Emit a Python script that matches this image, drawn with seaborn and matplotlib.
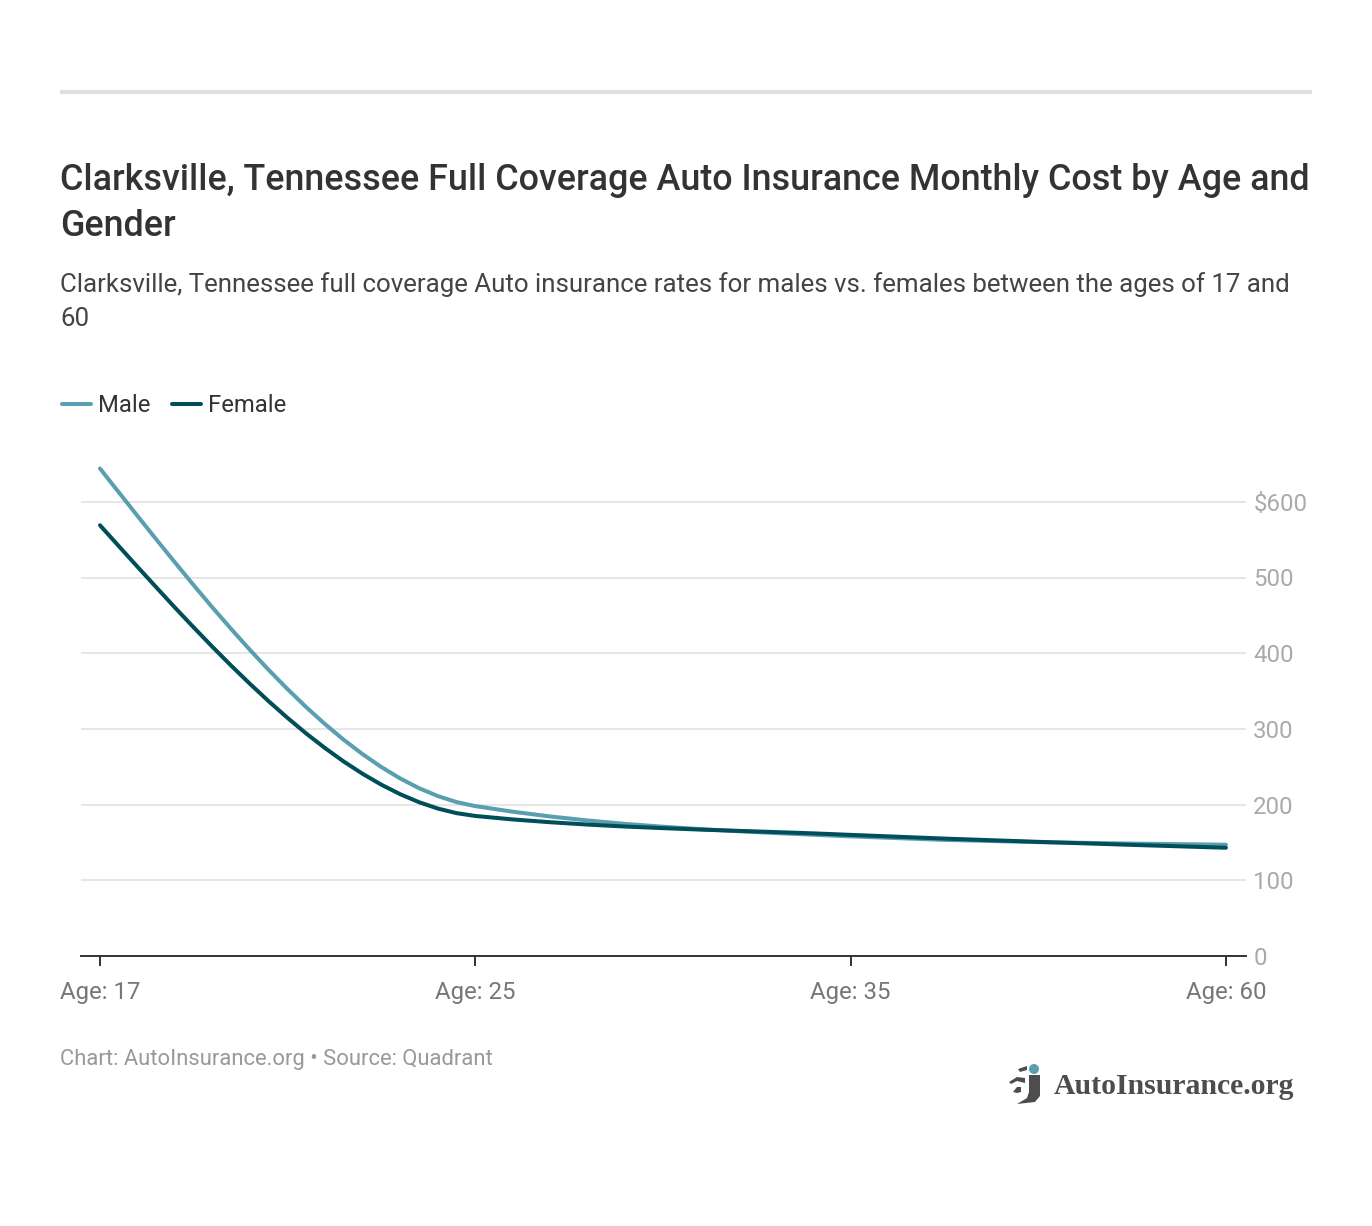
import pandas as pd
import seaborn as sns
import matplotlib.pyplot as plt
from matplotlib.lines import Line2D
from matplotlib.patches import Circle, Polygon

sns.set_style('white')
plt.rcParams['font.family'] = ['Roboto', 'DejaVu Sans']

W, H = 1372, 1226

# category positions of the samples (0 = Age: 17, 3 = Age: 60)
positions = [0, 0.05, 0.1, 0.15, 0.2, 0.25, 0.3, 0.35, 0.4, 0.45, 0.5, 0.55, 0.6, 0.65, 0.7,
             0.75, 0.8, 0.85, 0.9, 0.95, 1,
             1.1, 1.2, 1.3, 1.4, 1.5, 1.6, 1.7, 1.8, 1.9, 2,
             2.25, 2.5, 2.75, 3]
male = [644, 612.6, 581.3, 550.3, 519.7, 489.6, 460.2, 431.7, 404.1, 377.6, 352.4, 328.5, 306.1, 285.4, 266.5,
        249.5, 234.5, 221.7, 211.3, 203.3, 198,
        190.6, 184.3, 179, 174.5, 170.8, 167.6, 164.9, 162.4, 160.2, 158,
        153.4, 150.4, 148.5, 147]
female = [569, 541.5, 514.1, 487, 460.1, 433.9, 408.2, 383.3, 359.3, 336.3, 314.4, 293.7, 274.5, 256.7, 240.6,
          226.2, 213.7, 203.2, 194.8, 188.7, 185,
          180.4, 176.7, 173.6, 171, 168.9, 167, 165.3, 163.7, 162, 160,
          155.1, 150.8, 146.8, 143]

age_ticks = [0, 1, 2, 3]
age_labels = ['Age: 17', 'Age: 25', 'Age: 35', 'Age: 60']
cost_ticks = [0, 100, 200, 300, 400, 500, 600]
cost_labels = ['0', '100', '200', '300', '400', '500', '$600']

MALE_COLOR = '#5a9fb0'
FEMALE_COLOR = '#004e5a'
LOGO_GREY = '#4d4d4d'


def fx(px):
    return px / W


def fy(px):
    return 1 - px / H


df = pd.concat([
    pd.DataFrame({'pos': positions, 'cost': male, 'gender': 'Male'}),
    pd.DataFrame({'pos': positions, 'cost': female, 'gender': 'Female'}),
])

fig = plt.figure(figsize=(W / 100, H / 100), dpi=100, facecolor='white')
ax = fig.add_axes([fx(81), fy(956), (1246 - 81) / W, (956 - 460) / H])

sns.lineplot(data=df, x='pos', y='cost', hue='gender', ax=ax,
             palette={'Male': MALE_COLOR, 'Female': FEMALE_COLOR},
             linewidth=2.9, solid_capstyle='round', solid_joinstyle='round',
             errorbar=None, sort=False, legend=False, clip_on=False, zorder=3)

ax.set_xlim(-19 / 375.3, 1146 / 375.3)
ax.set_ylim(0, 496 / 0.757)
ax.set_xlabel('')
ax.set_ylabel('')

ax.set_xticks(age_ticks, age_labels, fontsize=17.3, color='#777777')
ax.yaxis.tick_right()
ax.set_yticks(cost_ticks, cost_labels, fontsize=17.3, color='#aaaaaa')
ax.tick_params(axis='x', bottom=True, length=7.5, width=1.4, color='#333333', pad=10.5)
ax.tick_params(axis='y', length=0, pad=5.3)
ax.grid(axis='y', color='#e6e6e6', linewidth=1.4)
ax.set_axisbelow(True)
for side in ['top', 'left', 'right']:
    ax.spines[side].set_visible(False)
ax.spines['bottom'].set_linewidth(1.4)
ax.spines['bottom'].set_color('#333333')

# top rule
fig.add_artist(Line2D([fx(60), fx(1312)], [fy(92), fy(92)], color='#e0e0e0',
                      linewidth=3, solid_capstyle='butt'))

fig.text(fx(60), fy(180), 'Clarksville, Tennessee Full Coverage Auto Insurance Monthly Cost by Age and',
         fontsize=25.8, fontweight='medium', color='#333333', va='center')
fig.text(fx(60), fy(226), 'Gender',
         fontsize=25.8, fontweight='medium', color='#333333', va='center')
fig.text(fx(60), fy(285), 'Clarksville, Tennessee full coverage Auto insurance rates for males vs. females between the ages of 17 and',
         fontsize=18.65, color='#444444', va='center')
fig.text(fx(60), fy(319), '60', fontsize=18.65, color='#444444', va='center')

# legend
fig.add_artist(Line2D([fx(62), fx(91)], [fy(404), fy(404)], color=MALE_COLOR,
                      linewidth=2.9, solid_capstyle='round'))
fig.text(fx(98), fy(405), 'Male', fontsize=17.2, color='#333333', va='center')
fig.add_artist(Line2D([fx(172), fx(201)], [fy(404), fy(404)], color=FEMALE_COLOR,
                      linewidth=2.9, solid_capstyle='round'))
fig.text(fx(208), fy(405), 'Female', fontsize=17.2, color='#333333', va='center')

fig.text(fx(60), fy(1060), 'Chart: AutoInsurance.org \u2022 Source: Quadrant',
         fontsize=15.8, color='#999999', va='center')

# logo
logo = fig.add_axes([fx(1005), fy(1108), 40 / W, 48 / H])
logo.set_xlim(0, 40)
logo.set_ylim(48, 0)
logo.axis('off')
logo.add_patch(Circle((29, 9), 5, color=MALE_COLOR, lw=0))
logo.add_patch(Polygon([(24, 15), (35, 15), (35, 36), (30, 42), (12, 44), (22, 38), (24, 32)],
                       color=LOGO_GREY, lw=0))
logo.add_patch(Polygon([(13, 9), (22, 6), (22, 10), (15, 12)], color=LOGO_GREY, lw=0))
logo.add_patch(Polygon([(4, 22), (12, 17), (20, 18), (20, 23), (12, 21), (6, 24)],
                       color=LOGO_GREY, lw=0))
logo.add_patch(Polygon([(8, 32), (12, 27), (16, 27), (16, 32), (12, 33)], color=LOGO_GREY, lw=0))
fig.text(fx(1054), fy(1086), 'AutoInsurance.org', fontsize=21.4, fontweight='bold',
         family='Liberation Serif', color=LOGO_GREY, va='center')

fig.savefig('out.png', dpi=100)
